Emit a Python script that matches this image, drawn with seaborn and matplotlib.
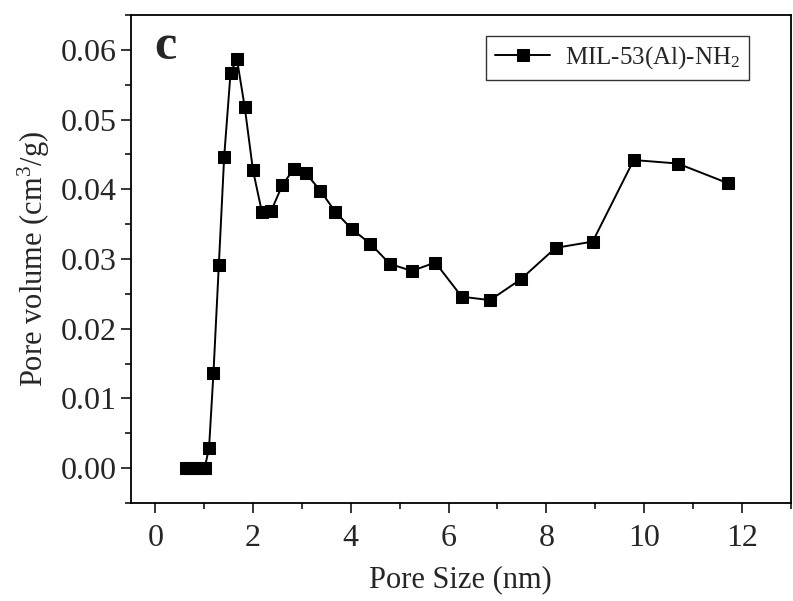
import matplotlib
matplotlib.use("Agg")
import matplotlib.pyplot as plt
import numpy as np
import pandas as pd
import seaborn as sns
from matplotlib.ticker import MultipleLocator, FormatStrFormatter

# pore size distribution
pore_size = [0.62, 0.72, 0.82, 0.92, 1.01, 1.10, 1.19, 1.30, 1.41, 1.54,
             1.67, 1.83, 2.00, 2.18, 2.37, 2.60, 2.83, 3.08, 3.38, 3.68,
             4.02, 4.40, 4.80, 5.25, 5.73, 6.27, 6.85, 7.48, 8.19, 8.95,
             9.79, 10.69, 11.71]
pore_volume = [0.0, 0.0, 0.0, 0.0, 0.0, 0.0029, 0.0136, 0.0291, 0.0447, 0.0567,
               0.0587, 0.0518, 0.0427, 0.0368, 0.0369, 0.0406, 0.0429, 0.0423, 0.0398, 0.0368,
               0.0343, 0.0322, 0.0293, 0.0283, 0.0295, 0.0246, 0.0241, 0.0271, 0.0316, 0.0325,
               0.0442, 0.0437, 0.0409]
series_name = "MIL-53(Al)-NH$_2$"

sns.set_theme(style="ticks")
plt.rcParams["font.family"] = ["Liberation Serif", "DejaVu Serif"]
plt.rcParams["mathtext.fontset"] = "custom"
plt.rcParams["mathtext.rm"] = "Liberation Serif"
plt.rcParams["mathtext.default"] = "regular"

df = pd.DataFrame({"size": pore_size, "volume": pore_volume, "sample": series_name})

fig = plt.figure(figsize=(7.93, 6.01), dpi=100)
ax = fig.add_axes([0.165, 0.163, 0.832, 0.812])

sns.lineplot(data=df, x="size", y="volume", hue="sample", palette=["black"],
             marker="s", markersize=8, markeredgecolor="black", linewidth=1.4,
             ax=ax)

ax.set_xlim(-0.5, 13)
ax.set_ylim(-0.005, 0.065)
ax.xaxis.set_major_locator(MultipleLocator(2))
ax.xaxis.set_minor_locator(MultipleLocator(1))
ax.yaxis.set_major_locator(MultipleLocator(0.01))
ax.yaxis.set_minor_locator(MultipleLocator(0.005))
ax.yaxis.set_major_formatter(FormatStrFormatter("%.2f"))
ax.tick_params(which="major", direction="out", length=7, width=1.3, labelsize=23)
ax.tick_params(axis="x", which="major", pad=8)
ax.tick_params(which="minor", direction="out", length=4, width=1.3)
for s in ax.spines.values():
    s.set_linewidth(1.3)
    s.set_color("black")

ax.set_xlabel("Pore Size (nm)", fontsize=22, labelpad=9)
ax.set_ylabel("Pore volume (cm$^3$/g)", fontsize=22, labelpad=6)
ax.text(0.052, 0.935, "c", transform=ax.transAxes, fontsize=36, fontweight="bold",
        ha="center", va="center")

leg = ax.legend(loc="upper right", bbox_to_anchor=(0.937, 0.958), borderaxespad=0,
                fontsize=18, frameon=True, fancybox=False, edgecolor="black",
                handlelength=2.2, borderpad=0.35, handletextpad=0.6)
leg.get_frame().set_linewidth(1.0)

fig.savefig("out.png", dpi=100)
